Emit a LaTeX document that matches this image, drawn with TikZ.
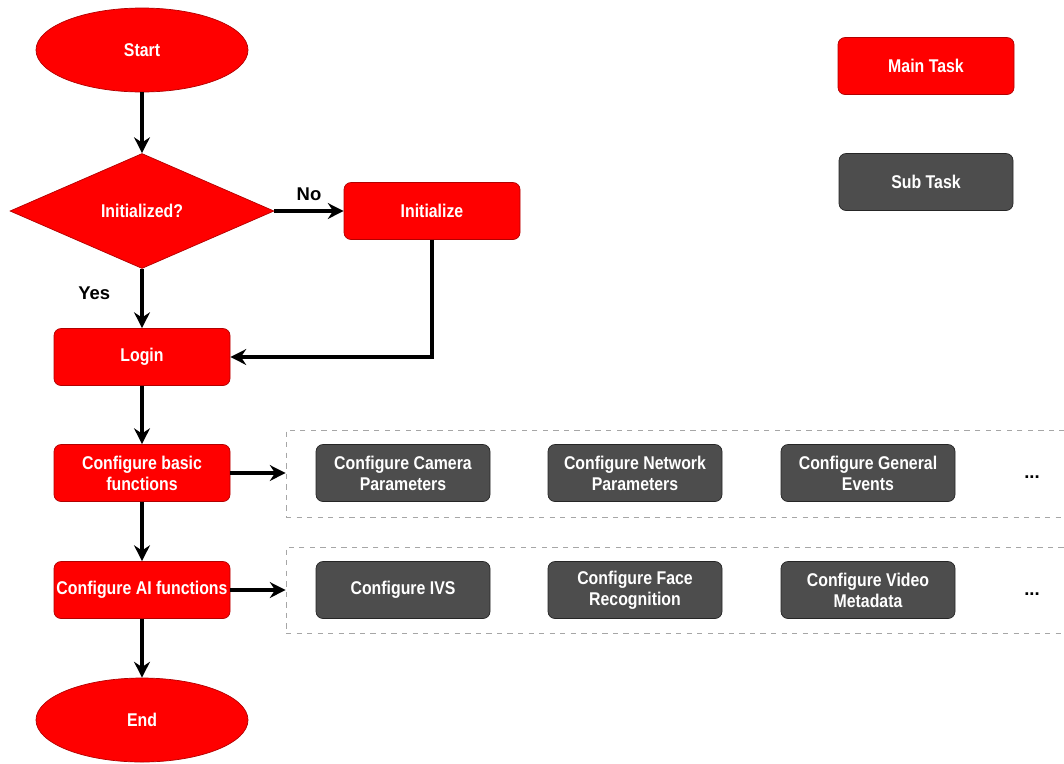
\documentclass[tikz,border=0pt]{standalone}
\usepackage{fontspec}
\setmainfont{Liberation Sans}
\newfontfamily\boxfont{Liberation Sans}[FakeStretch=0.86]
\usepackage{xcolor}
\usetikzlibrary{shapes.geometric, arrows.meta}

\definecolor{taskred}{HTML}{FF0000}
\definecolor{taskedge}{HTML}{B20000}
\definecolor{subgray}{HTML}{4D4D4D}

\begin{document}
\begin{tikzpicture}[every node/.style={font=\boxfont\bfseries\fontsize{10.5pt}{12pt}\selectfont,
        align=center, inner sep=1pt},
        mainbox/.style={rectangle, rounded corners=4pt, draw=taskedge, fill=taskred,
        text=white, minimum width=3.52cm, minimum height=1.14cm},
        subbox/.style={rectangle, rounded corners=4pt, draw=black!85, fill=subgray,
        text=white, minimum width=3.48cm, minimum height=1.14cm},
        term/.style={ellipse, draw=taskedge, fill=taskred, text=white,
        minimum width=4.24cm, minimum height=1.68cm},
        decision/.style={diamond, draw=taskedge, fill=taskred, text=white,
        minimum width=5.28cm, minimum height=2.3cm},
        group/.style={rectangle, draw=gray!70, dashed, minimum width=16.3cm},
        label/.style={font=\bfseries\fontsize{10.5pt}{12pt}\selectfont},
        arrow/.style={-{Stealth[length=9pt, width=9pt, inset=3pt]}, line width=2.2pt}]
        \useasboundingbox (0,0) rectangle (21.28,-15.26);

        % main column
        \node[term] (S) at (2.84, -1.0) {Start};
        \node[decision] (D) at (2.84, -4.22) {Initialized?};
        \node[mainbox] (I) at (8.64, -4.22) {Initialize};
        \node[mainbox] (L) at (2.84, -7.14) {Login};
        \node[mainbox] (B) at (2.84, -9.46) {Configure basic\\functions};
        \node[mainbox] (A) at (2.84, -11.8) {Configure AI functions};
        \node[term] (E) at (2.84, -14.4) {End};

        % legend
        \node[mainbox] (M) at (18.52, -1.32) {Main Task};
        \node[subbox] (T) at (18.52, -3.64) {Sub Task};

        % sub tasks
        \node[group, minimum height=1.74cm] (G1) at (13.87, -9.47) {};
        \node[group, minimum height=1.72cm] (G2) at (13.87, -11.8) {};
        \node[subbox] (B1) at (8.06, -9.46) {Configure Camera\\Parameters};
        \node[subbox] (B2) at (12.70, -9.46) {Configure Network\\Parameters};
        \node[subbox] (B3) at (17.36, -9.46) {Configure General\\Events};
        \node[label] (B4) at (20.64, -9.55) {...};
        \node[subbox] (A1) at (8.06, -11.8) {Configure IVS};
        \node[subbox] (A2) at (12.70, -11.8) {Configure Face\\Recognition};
        \node[subbox] (A3) at (17.36, -11.8) {Configure Video\\Metadata};
        \node[label] (A4) at (20.64, -11.88) {...};

        \draw[arrow] (S) -- (D);
        \draw[arrow] (D) -- node[label, above=4pt] {No} (I);
        \draw[arrow] (D) -- node[label, left=16pt, yshift=3pt] {Yes} (L);
        \draw[arrow] (I) |- (L);
        \draw[arrow] (L) -- (B);
        \draw[arrow] (B) -- (A);
        \draw[arrow] (A) -- (E);
        \draw[arrow] (B) -- (G1.west |- B);
        \draw[arrow] (A) -- (G2.west |- A);
    \end{tikzpicture}
\end{document}
